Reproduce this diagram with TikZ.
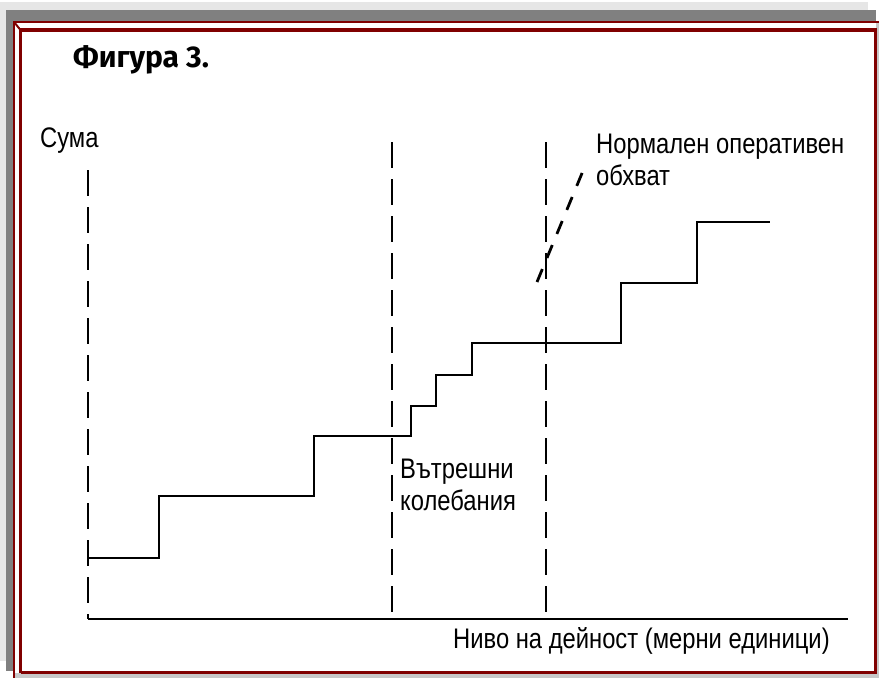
\documentclass[tikz,border=0pt]{standalone}
\usepackage{fontspec}
\setmainfont{Liberation Sans}
\newfontfamily\nar[FakeStretch=0.84]{Liberation Sans}
\newfontfamily\ttl{Fira Sans}
\definecolor{frred}{HTML}{800000}
\definecolor{shadowA}{HTML}{E6E6E6}
\definecolor{shadowB}{HTML}{808080}
\definecolor{shadowC}{HTML}{C8C8C8}
\tikzset{
  lbl/.style={inner sep=0pt, anchor=base west, font=\nar\fontsize{28.3}{32}\selectfont},
  guide/.style={line width=2.8pt, dash pattern=on 26pt off 11pt},
  curve/.style={line width=2.8pt, line join=miter},
}
\begin{document}
\begin{tikzpicture}[x=1pt,y=-1pt]
\useasboundingbox (0,0) rectangle (879,678);
% frame and shadow
\fill[shadowA] (0,2) rectangle (868,661);
\fill[shadowB] (6,10) rectangle (876,671);
\fill[shadowC] (13,21) rectangle (879,678);
\fill[white] (14,22) rectangle (875.5,672.5);
\draw[frred, line width=2.5pt] (14,678) -- (14,22) -- (879,22);
\draw[frred, line width=2pt] (14,22) -- (20.5,30);
\draw[frred, line width=3.5pt] (20.5,672.5) -- (20.5,30) -- (877,30);
\draw[frred, line width=2.5pt] (20.5,672.5) -- (875.5,672.5) -- (875.5,30);
% title
\node[inner sep=0pt, anchor=base west, font=\ttl\bfseries\fontsize{30}{34}\selectfont] (title) at (73,67) {Фигура 3.};
% coordinates
\coordinate (o) at (88,619);
\coordinate (xend) at (848,619);
\coordinate (ltop) at (88,170);
\coordinate (mtop) at (392,142);
\coordinate (mbot) at (392,617);
\coordinate (rtop) at (546,142);
\coordinate (rbot) at (546,617);
\coordinate (dlo) at (537,282);
\coordinate (dhi) at (585,166);
% dashed guides
\draw[guide] (ltop) -- (o);
\draw[guide] (mtop) -- (mbot);
\draw[guide] (rtop) -- (rbot);
\draw[guide, dash pattern=on 14pt off 12pt] (dlo) -- (dhi);
% axis
\draw[curve] (o) -- (xend);
% staircase
\draw[curve] (88,558) -- (159,558) -- (159,496) -- (314,496) -- (314,436)
  -- (411,436) -- (411,406) -- (436,406) -- (436,375) -- (472,375) -- (472,343)
  -- (621,343) -- (621,283) -- (697,283) -- (697,222) -- (770,222);
% labels
\node[lbl] (suma) at (40,147) {Сума};
\node[lbl] (norm1) at (596,153) {Нормален оперативен};
\node[lbl] (norm2) at (596,185) {обхват};
\node[lbl] (vat1) at (400,478) {Вътрешни};
\node[lbl] (vat2) at (400,510) {колебания};
\node[lbl] (xlab) at (453,648) {Ниво на дейност (мерни единици)};
\end{tikzpicture}
\end{document}
